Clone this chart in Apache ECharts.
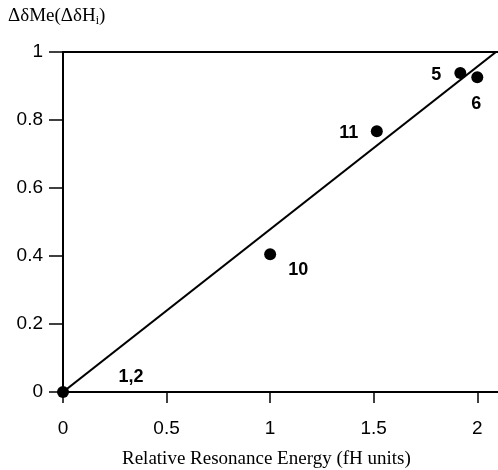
<!DOCTYPE html>
<html>
<head>
<meta charset="utf-8">
<script src="https://cdn.jsdelivr.net/npm/echarts@6/dist/echarts.min.js"></script>
<style>
  html, body { margin: 0; padding: 0; background: #fff; }
  #chart { width: 498px; height: 470px; }
</style>
</head>
<body>
<div id="chart"></div>
<script>
// compound labels and measured values
var compounds = ['1,2', '10', '11', '5', '6'];
var energy = [0, 1.0, 1.515, 1.918, 2.0];
var shift = [0, 0.405, 0.767, 0.938, 0.926];
// fitted line end points
var fitX = [0, 2.09];
var fitY = [0, 1.0];
var xTicks = [0, 0.5, 1, 1.5, 2];
var yTicks = [0, 0.2, 0.4, 0.6, 0.8, 1];

var labelOffsets = {
  '1,2': [68, -15],
  '10': [28, 16],
  '11': [-28, 2],
  '5': [-24, 2],
  '6': [-1, 27]
};

var chart = echarts.init(document.getElementById('chart'));

var points = compounds.map(function (c, i) {
  return {
    name: c,
    value: [energy[i], shift[i]],
    label: { offset: labelOffsets[c] }
  };
});

var option = {
  animation: false,
  backgroundColor: '#fff',
  grid: { left: 63, top: 52, right: -2, bottom: 78 },
  graphic: [
    {
      type: 'text', left: 8, top: 7,
      style: {
        text: '{a|ΔδMe(ΔδH}{s|i}{a|)}',
        rich: {
          a: { fontFamily: 'Liberation Serif', fontSize: 19, fill: '#000' },
          s: { fontFamily: 'Liberation Serif', fontSize: 12, fill: '#000', padding: [9, 0, 0, 0] }
        }
      }
    },
    {
      type: 'text', left: 122, top: 450,
      style: {
        text: 'Relative Resonance Energy (fH units)',
        fontFamily: 'Liberation Serif', fontSize: 19, fill: '#000'
      }
    }
  ],
  xAxis: [
    {
      type: 'value', min: 0, max: 2.1, interval: 0.5,
      axisLine: { lineStyle: { color: '#000', width: 2 } },
      axisTick: { length: 11, lineStyle: { color: '#000', width: 1.5 } },
      splitLine: { show: false },
      axisLabel: {
        margin: 27, color: '#000', fontSize: 19, fontFamily: 'Liberation Sans',
        showMaxLabel: false,
        formatter: function (v) { return xTicks.indexOf(v) >= 0 ? String(v) : ''; }
      }
    },
    {
      type: 'value', min: 0, max: 2.1, position: 'top',
      axisLine: { show: true, lineStyle: { color: '#000', width: 2 } },
      axisTick: { show: false }, axisLabel: { show: false }, splitLine: { show: false }
    }
  ],
  yAxis: {
    type: 'value', min: 0, max: 1, interval: 0.2,
    axisLine: { show: true, lineStyle: { color: '#000', width: 2 } },
    axisTick: { show: true, length: 14, lineStyle: { color: '#000', width: 1.5 } },
    splitLine: { show: false },
    axisLabel: {
      margin: 20, color: '#000', fontSize: 19, fontFamily: 'Liberation Sans',
      formatter: function (v) { return yTicks.indexOf(v) >= 0 ? String(+v.toFixed(1)) : ''; }
    }
  },
  series: [
    {
      type: 'line',
      data: fitX.map(function (x, i) { return [x, fitY[i]]; }),
      symbol: 'none',
      lineStyle: { color: '#000', width: 2.2 },
      z: 3
    },
    {
      type: 'scatter',
      data: points,
      symbol: 'circle',
      symbolSize: 12,
      itemStyle: { color: '#000', opacity: 1 },
      label: {
        show: true,
        position: 'inside',
        formatter: '{b}',
        color: '#000',
        fontSize: 18,
        fontWeight: 'bold',
        fontFamily: 'Liberation Sans'
      },
      z: 4
    }
  ]
};

chart.setOption(option);
</script>
</body>
</html>
